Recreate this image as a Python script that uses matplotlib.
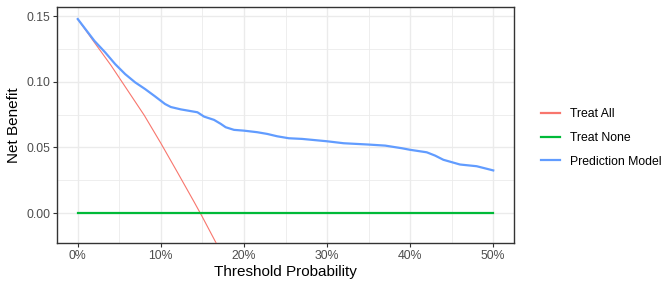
import matplotlib.pyplot as plt
from matplotlib.ticker import FuncFormatter, MultipleLocator

# Threshold probabilities (%) and net benefit
treat_all_x = [0, 2, 4, 6, 8, 10, 12, 14, 15, 16, 17]
treat_all_y = [0.1478, 0.130, 0.1125, 0.0935, 0.0745, 0.0532, 0.031, 0.0085, -0.003,
               -0.015, -0.027]

treat_none_x = [0, 50]
treat_none_y = [0.0, 0.0]

model_x = [0, 2, 3.3, 4.5, 5.7, 6.9, 8.1, 9.3, 10.5, 11.2, 12.4, 14.4, 15.2, 16.4, 17.2,
           17.8, 18.8, 20, 21.6, 22.8, 24, 25.4, 27, 30, 32, 35, 37, 39, 40, 42, 43,
           44, 45, 46, 48, 50]
model_y = [0.1478, 0.1312, 0.1224, 0.1135, 0.1059, 0.0996, 0.0945, 0.0889, 0.0831,
           0.0808, 0.0790, 0.0768, 0.0735, 0.0710, 0.0680, 0.0654, 0.0634, 0.0628,
           0.0616, 0.0603, 0.0585, 0.0570, 0.0565, 0.0547, 0.0532, 0.0522, 0.0514,
           0.0494, 0.0482, 0.0463, 0.0438, 0.0406, 0.0388, 0.0370, 0.0357, 0.0325]

plt.rcParams.update({
    "font.family": ["Liberation Sans", "DejaVu Sans"],
})

fig = plt.figure(figsize=(6.72, 2.88), dpi=100)
ax = fig.add_axes([57 / 672, 45 / 288, 457 / 672, 236 / 288])

line_all, = ax.plot(treat_all_x, treat_all_y, color="#F8766D", linewidth=0.8, zorder=3)
line_none, = ax.plot(treat_none_x, treat_none_y, color="#00BA38", linewidth=1.6, zorder=3)
line_model, = ax.plot(model_x, model_y, color="#619CFF", linewidth=1.6, zorder=3)

ax.set_xlim(-2.5, 52.5)
ax.set_ylim(-0.0228, 0.157)

ax.xaxis.set_major_locator(MultipleLocator(10))
ax.xaxis.set_minor_locator(MultipleLocator(5))
ax.yaxis.set_major_locator(MultipleLocator(0.05))
ax.yaxis.set_minor_locator(MultipleLocator(0.025))
ax.xaxis.set_major_formatter(FuncFormatter(lambda v, p: "%d%%" % round(v)))
ax.yaxis.set_major_formatter(FuncFormatter(lambda v, p: "%.2f" % v))

ax.grid(True, which="major", color="#EBEBEB", linewidth=1.0, zorder=0)
ax.grid(True, which="minor", color="#EBEBEB", linewidth=0.6, zorder=0)
ax.set_axisbelow(True)

for s in ax.spines.values():
    s.set_color("#333333")
    s.set_linewidth(1.0)
ax.tick_params(which="major", length=3, width=0.8, color="#333333",
               labelsize=8.8, labelcolor="#4D4D4D", pad=2)
ax.tick_params(which="minor", length=0)

ax.set_xlabel("Threshold Probability", fontsize=11, labelpad=2)
ax.set_ylabel("Net Benefit", fontsize=11, labelpad=4)

leg = fig.legend([line_all, line_none, line_model],
                 ["Treat All", "Treat None", "Prediction Model"],
                 loc="center left", bbox_to_anchor=(530 / 672, 1 - 138 / 288),
                 frameon=False, fontsize=8.8, handlelength=1.55, handletextpad=0.8,
                 labelspacing=0.95)
for h in leg.legend_handles:
    h.set_linewidth(1.6)

fig.savefig("out.png", dpi=100)
